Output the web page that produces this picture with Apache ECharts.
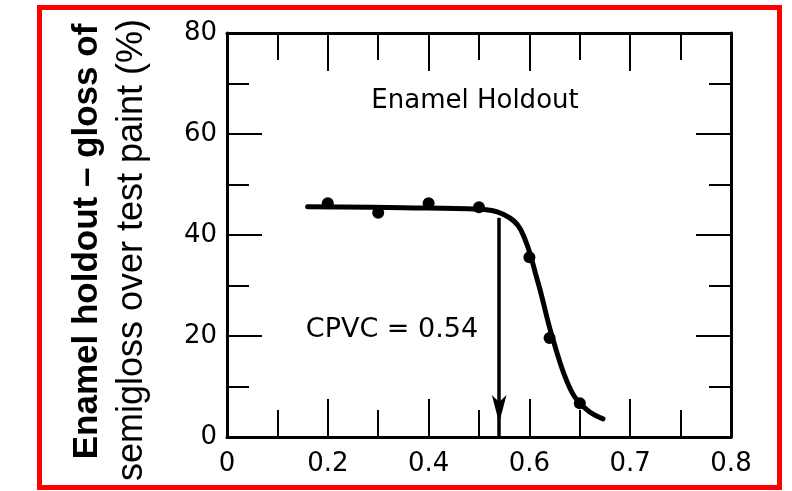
<!DOCTYPE html>
<html><head><meta charset="utf-8">
<script src="https://cdn.jsdelivr.net/npm/echarts@6/dist/echarts.min.js"></script>
<style>html,body{margin:0;padding:0;background:#fff}#c{width:792px;height:491px}</style>
</head><body><div id="c"></div>
<script>
// ---- data ----
const xTickLabels = ['0', '0.2', '0.4', '0.6', '0.7', '0.8'];
const pointX = [0.2, 0.3, 0.4, 0.5, 0.6, 0.64, 0.7];
const pointY = [46.3, 44.4, 46.3, 45.5, 35.6, 19.6, 6.7];
const curveX = [0.16, 0.35, 0.50, 0.55, 0.583, 0.616, 0.646, 0.682, 0.715, 0.746];
const curveY = [45.6, 45.4, 45.1, 44.0, 41.0, 31.0, 19.6, 9.3, 5.3, 3.6];
const cpvcValue = 0.54;
const cpvcTop = 43.4;
const titleText = 'Enamel Holdout';
const cpvcText = 'CPVC = 0.54';
const yTitle1 = 'Enamel holdout – gloss of';
const yTitle2 = 'semigloss over test paint (%)';

const chart = echarts.init(document.getElementById('c'), null, {renderer: 'canvas'});
const black = '#000';
const tickFont = {color: black, fontSize: 26, fontFamily: 'DejaVu Sans'};

function xAxisCfg(pos, showLabel) {
  return {
    type: 'value', position: pos, min: 0, max: 1, interval: 0.2,
    axisLine: {show: true, onZero: false, lineStyle: {color: black, width: 3}},
    axisTick: {show: true, inside: true, length: 38, lineStyle: {color: black, width: 2}},
    minorTick: {show: true, splitNumber: 2, length: 27, lineStyle: {color: black, width: 2}},
    splitLine: {show: false},
    axisLabel: Object.assign({show: showLabel, margin: 14,
      formatter: v => { const s = xTickLabels[Math.round(v / 0.2)]; return s === undefined ? '' : s; }}, tickFont)
  };
}
function yAxisCfg(pos, showLabel) {
  return {
    type: 'value', position: pos, min: 0, max: 80, interval: 20,
    axisLine: {show: true, onZero: false, lineStyle: {color: black, width: 3}},
    axisTick: {show: true, inside: true, length: 35, lineStyle: {color: black, width: 2}},
    minorTick: {show: true, splitNumber: 2, length: 22, lineStyle: {color: black, width: 2}},
    splitLine: {show: false},
    axisLabel: Object.assign({show: showLabel, margin: 10}, tickFont)
  };
}

chart.setOption({
  animation: false,
  backgroundColor: '#fff',
  grid: {left: 227, top: 33, width: 504, height: 404, containLabel: false},
  xAxis: [xAxisCfg('bottom', true), xAxisCfg('top', false)],
  yAxis: [yAxisCfg('left', true), yAxisCfg('right', false)],
  series: [
    {
      type: 'line', xAxisIndex: 0, yAxisIndex: 0,
      data: curveX.map((x, i) => [x, curveY[i]]),
      smooth: 0.4, showSymbol: false, symbol: 'none',
      lineStyle: {color: black, width: 5, cap: 'round', join: 'round'},
      markLine: {
        silent: true, animation: false,
        symbol: ['none', 'arrow'], symbolSize: [11, 28], symbolOffset: [[0, 0], [0, 14]],
        label: {show: false},
        lineStyle: {color: black, width: 3.5, type: 'solid'},
        data: [[{coord: [cpvcValue, cpvcTop]}, {coord: [cpvcValue, 0]}]]
      }
    },
    {
      type: 'scatter', xAxisIndex: 0, yAxisIndex: 0,
      data: pointX.map((x, i) => [x, pointY[i]]),
      symbol: 'circle', symbolSize: 12,
      itemStyle: {color: black, opacity: 1}
    }
  ],
  graphic: [
    {type: 'rect', shape: {x: 39.5, y: 7.5, width: 740, height: 480},
     style: {fill: 'none', stroke: '#ff0000', lineWidth: 5}, z: 100},
    {type: 'text', x: 475, y: 101, style: {text: titleText, fill: black,
      font: '26px "DejaVu Sans"', textAlign: 'center', textVerticalAlign: 'middle'}},
    {type: 'text', x: 392, y: 330, style: {text: cpvcText, fill: black,
      font: '27px "DejaVu Sans"', textAlign: 'center', textVerticalAlign: 'middle'}},
    {type: 'text', x: 87.5, y: 241.5, rotation: Math.PI / 2, style: {text: yTitle1, fill: black,
      font: 'bold 35px "Liberation Sans"', textAlign: 'center', textVerticalAlign: 'middle'}},
    {type: 'text', x: 132, y: 250, rotation: Math.PI / 2, style: {text: yTitle2, fill: black,
      font: '36px "Liberation Sans"', textAlign: 'center', textVerticalAlign: 'middle'}}
  ]
});
</script>
</body></html>
